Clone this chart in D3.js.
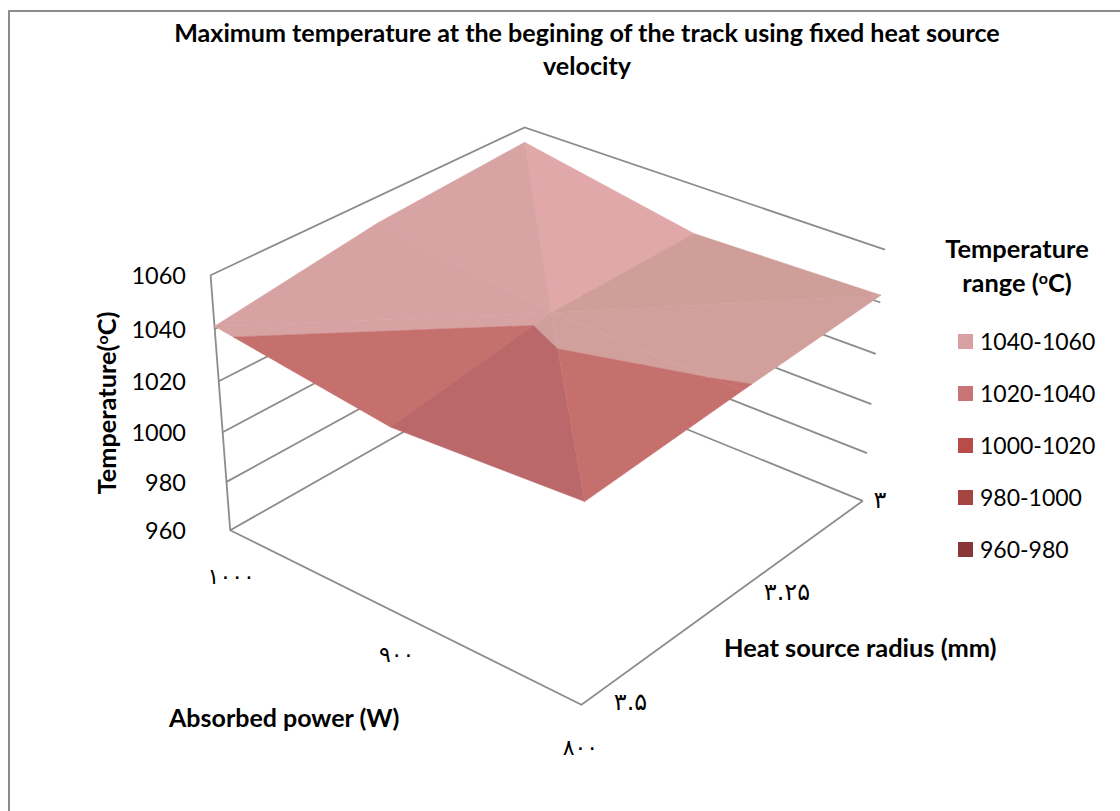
<!DOCTYPE html>
<html><head><meta charset="utf-8">
<script src="https://cdn.jsdelivr.net/npm/d3@7"></script>
<style>
html,body{margin:0;padding:0;background:#fff}
text{font-family:Lato,"Open Sans",sans-serif;fill:#000}
</style></head><body>
<svg id="c" width="1120" height="811" style="display:block"></svg>
<script>
const powers=[1000,900,800];
const radii=[3,3.25,3.5];
const tempsAt1000=[1054,1050,1041];
const tempsAt900=[1041.2,1041.06,1032];
const tempsAt800=[1042.8,1039.8,1036];
const zTicks=[960,980,1000,1020,1040,1060];
const powerLabels=["۱۰۰۰","۹۰۰","۸۰۰"];
const radiusLabels=["۳","۳.۲۵","۳.۵"];
const bandNames=["1040-1060","1020-1040","1000-1020","980-1000","960-980"];
const bandColors=["#d9a0a3","#c87374","#b84c4b","#a64442","#8a3636"];
const bandLows=[1040,1020,1000,980,960];
// facet shades for the two visible bands
const paleFacets=["#e1a8aa","#d8a3a3","#d6a2a2","#d6a2a2","#cf9f9e","#d2a09c","#d2a09c","#cf9e99"];
const darkFacets=["#c6706e","#c6706e","#c6706e","#c6706e","#ba686a","#c6706e","#c6706e","#c6706e"];

const temps=[tempsAt1000,tempsAt900,tempsAt800];
const svg=d3.select("#c");
const uS=d3.scaleLinear().domain([1000,800]).range([0,1]);
const vS=d3.scaleLinear().domain([3.5,3]).range([0,1]);
const tS=d3.scaleLinear().domain([960,1060]).range([0,1]);

// cube anchors: [u,v,t,x,y]
const anchors=[[0,0,0,230,530],[1,0,0,581,705],[1,1,0,863,500],[0,1,0,525,364],
               [0,0,1,211,275],[1,0,1,586,433],[1,1,1,885,250],[0,1,1,524,127]];
function solveProjection(){
  const A=[],b=[];
  anchors.forEach(([u,v,t,x,y])=>{
    A.push([u,v,t,1,0,0,0,0,-x*u,-x*v,-x*t]);b.push(x);
    A.push([0,0,0,0,u,v,t,1,-y*u,-y*v,-y*t]);b.push(y);
  });
  const n=11,N=d3.range(n).map(i=>d3.range(n+1).map(j=>0));
  A.forEach((r,k)=>{for(let i=0;i<n;i++){for(let j=0;j<n;j++)N[i][j]+=r[i]*r[j];N[i][n]+=r[i]*b[k];}});
  for(let i=0;i<n;i++){
    let p=i;for(let k=i+1;k<n;k++)if(Math.abs(N[k][i])>Math.abs(N[p][i]))p=k;
    [N[i],N[p]]=[N[p],N[i]];
    for(let k=0;k<n;k++)if(k!==i){const f=N[k][i]/N[i][i];for(let j=i;j<=n;j++)N[k][j]-=f*N[i][j];}
  }
  return N.map((r,i)=>r[n]/r[i]);
}
const M=solveProjection();
function proj(p,r,z){
  const u=uS(p),v=vS(r),t=tS(z);
  const w=M[8]*u+M[9]*v+M[10]*t+1;
  return [(M[0]*u+M[1]*v+M[2]*t+M[3])/w,(M[4]*u+M[5]*v+M[6]*t+M[7])/w];
}
const P1=powers[0],P3=powers[2],R1=radii[0],R3=radii[2];
const line=d3.line();

// frame: only top and left edges are visible
svg.append("path").attr("d",line([[9,811],[9,11],[1120,11]])).attr("fill","none")
  .attr("stroke","#8c8c8c").attr("stroke-width",2);

// walls and floor
const g=svg.append("g").attr("fill","none").attr("stroke","#8c8c8c").attr("stroke-width",1.8);
zTicks.forEach(z=>{
  g.append("path").attr("d",line([proj(P1,R3,z),proj(P1,R1,z),proj(P3,R1,z)]));
});
g.append("path").attr("d",line([proj(P1,R3,1060),proj(P1,R3,960),proj(P3,R3,960),proj(P3,R1,960)]));

// surface
function vert(i,j){return {p:powers[i],r:radii[j],z:temps[i][j]};}
const C=vert(1,1);
const ring=[[0,0],[0,1],[0,2],[1,2],[2,2],[2,1],[2,0],[1,0]];
const facets=[[ring[0],ring[7]],[ring[0],ring[1]],[ring[1],ring[2]],[ring[2],ring[3]],
              [ring[3],ring[4]],[ring[4],ring[5]],[ring[5],ring[6]],[ring[6],ring[7]]];
function clip(poly,level,keepAbove){
  const out=[];
  poly.forEach((a,i)=>{
    const b=poly[(i+1)%poly.length];
    const ina=keepAbove?a.z>=level:a.z<=level, inb=keepAbove?b.z>=level:b.z<=level;
    if(ina)out.push(a);
    if(ina!==inb){const k=(level-a.z)/(b.z-a.z);
      out.push({p:a.p+k*(b.p-a.p),r:a.r+k*(b.r-a.r),z:level});}
  });
  return out;
}
const sg=svg.append("g");
facets.forEach((f,i)=>{
  const tri=[C,vert(...f[0]),vert(...f[1])];
  bandLows.forEach(lo=>{
    let poly=clip(clip(tri,lo,true),lo+20,false);
    if(poly.length<3)return;
    const col=lo>=1040?paleFacets[i]:lo>=1020?darkFacets[i]:bandColors[bandLows.indexOf(lo)];
    sg.append("path").attr("d",line(poly.map(q=>proj(q.p,q.r,q.z)))+"Z")
      .attr("fill",col).attr("stroke",col).attr("stroke-width",0.5);
  });
});

// tick labels
zTicks.forEach(z=>{
  svg.append("text").attr("x",186).attr("y",proj(P1,R3,z)[1]+9).attr("text-anchor","end")
    .attr("font-size",23.5).text(z);
});
const pOff=[[1,54],[0,49],[-1,50]];
const pSpace=[8,6,6];
powers.forEach((p,i)=>{
  const q=proj(p,R3,960);
  svg.append("text").attr("x",q[0]+pOff[i][0]).attr("y",q[1]+pOff[i][1]).attr("text-anchor","middle")
    .style("font-family","'DejaVu Sans'").attr("font-size",22).attr("letter-spacing",pSpace[i]).text(powerLabels[i]);
});
const rOff=[[17,7],[56,4],[49,5]];
radii.forEach((r,i)=>{
  const q=proj(P3,r,960);
  svg.append("text").attr("x",q[0]+rOff[i][0]).attr("y",q[1]+rOff[i][1]).attr("text-anchor","middle")
    .style("font-family","'DejaVu Sans'").attr("font-size",24).style("direction","ltr").style("unicode-bidi","bidi-override").text(radiusLabels[i]);
});

// titles
function bold(x,y,size,anchor,txt){
  return svg.append("text").attr("x",x).attr("y",y).attr("font-size",size).attr("font-weight",700)
    .attr("text-anchor",anchor).text(txt);
}
bold(587,42,25.1,"middle","Maximum temperature at the begining of the track using fixed heat source");
bold(587,75,25.1,"middle","velocity");
bold(169,727,25,"start","Absorbed power (W)");
bold(724,657,25.4,"start","Heat source radius (mm)");
const yl=svg.append("text").attr("transform","translate(116,403) rotate(-90)").attr("font-size",25.3)
  .attr("font-weight",700).attr("text-anchor","middle");
yl.append("tspan").text("Temperature(");
yl.append("tspan").attr("font-size",16).attr("dy",-8).text("o");
yl.append("tspan").attr("dy",8).text("C)");

// legend
bold(1017,258,25.4,"middle","Temperature");
const lt=bold(1017,292,25.4,"middle","range (");
lt.append("tspan").attr("font-size",16).attr("dy",-8).text("o");
lt.append("tspan").attr("dy",8).text("C)");
const ly=d3.scalePoint().domain(bandNames).range([341.5,549.5]);
bandNames.forEach((n,i)=>{
  svg.append("rect").attr("x",958).attr("y",ly(n)-7.5).attr("width",15).attr("height",15).attr("fill",bandColors[i]);
  svg.append("text").attr("x",980).attr("y",ly(n)+8).attr("font-size",23).text(n);
});
</script></body></html>
